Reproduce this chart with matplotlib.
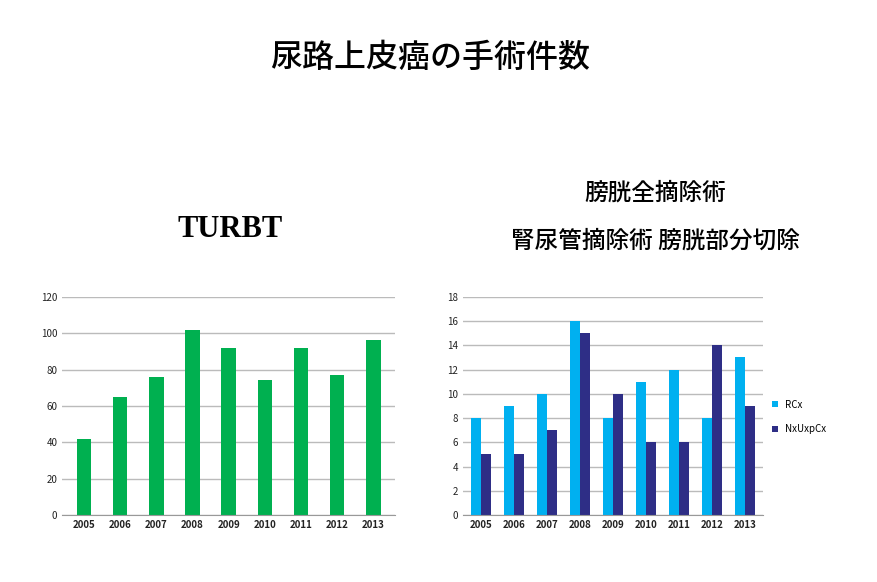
import matplotlib
matplotlib.use("Agg")
import matplotlib.pyplot as plt
import numpy as np

plt.rcParams['font.family'] = ['Noto Sans CJK JP', 'DejaVu Sans']

years = ["2005", "2006", "2007", "2008", "2009", "2010", "2011", "2012", "2013"]
turbt = [42, 65, 76, 102, 92, 74, 92, 77, 96]
rcx = [8, 9, 10, 16, 8, 11, 12, 8, 13]
nxuxpcx = [5, 5, 7, 15, 10, 6, 6, 14, 9]

fig = plt.figure(figsize=(8.78, 5.82), dpi=100)
fig.text(0.49, 0.90, "尿路上皮癌の手術件数", ha="center", va="center", fontsize=23,
         weight="medium")
fig.text(0.262, 0.605, "TURBT", ha="center", va="center", fontsize=22,
         family="Liberation Serif", weight="bold")
fig.text(0.746, 0.668, "膀胱全摘除術", ha="center", va="center", fontsize=17,
         weight="medium")
fig.text(0.746, 0.585, "腎尿管摘除術 膀胱部分切除", ha="center", va="center", fontsize=17,
         weight="medium")

def style(ax, ymax, step):
    ax.set_ylim(0, ymax)
    ax.set_yticks(np.arange(0, ymax + 1, step))
    ax.yaxis.grid(True, color="#bbbbbb", lw=1)
    ax.set_axisbelow(True)
    for s in ["top", "right", "left"]:
        ax.spines[s].set_visible(False)
    ax.spines["bottom"].set_color("#999999")
    ax.tick_params(axis="y", length=0, labelsize=7, colors="#222222")
    ax.tick_params(axis="x", length=0, labelsize=7, colors="#222222")
    for lab in ax.get_xticklabels():
        lab.set_fontweight("bold")

x = np.arange(len(years))
ax1 = fig.add_axes([0.071, 0.115, 0.379, 0.375])
ax1.bar(x, turbt, width=0.4, color="#00b050")
ax1.set_xticks(x, years)
ax1.set_xlim(-0.6, len(years) - 0.4)
style(ax1, 120, 20)

ax2 = fig.add_axes([0.527, 0.115, 0.342, 0.375])
w = 0.3
ax2.bar(x - w / 2, rcx, width=w, color="#00b0f0", label="RCx")
ax2.bar(x + w / 2, nxuxpcx, width=w, color="#2e2e86", label="NxUxpCx")
ax2.set_xticks(x, years)
ax2.set_xlim(-0.55, len(years) - 0.45)
style(ax2, 18, 2)
ax2.legend(loc="center left", bbox_to_anchor=(1.0, 0.45), frameon=False,
           fontsize=7, handlelength=0.6, handleheight=0.6, labelspacing=1.5)

fig.savefig("out.png", dpi=100, facecolor="white")
